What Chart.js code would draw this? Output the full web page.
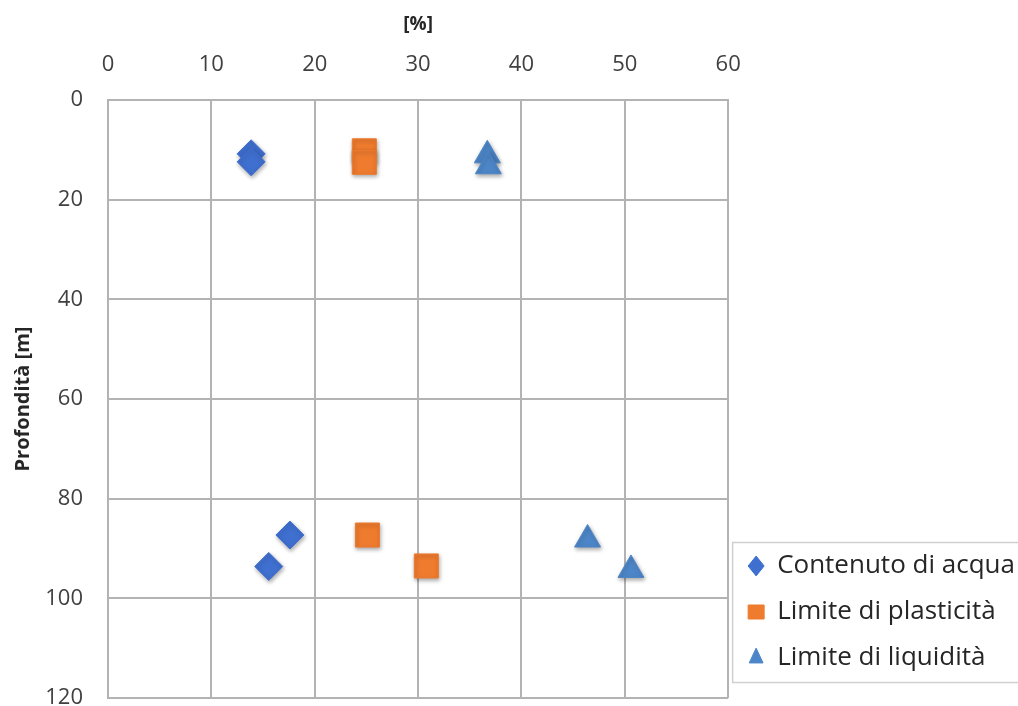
<!DOCTYPE html>
<html>
<head>
<meta charset="utf-8">
<script src="https://cdn.jsdelivr.net/npm/chart.js@4/dist/chart.umd.min.js"></script>
<style>
  html, body { margin: 0; padding: 0; background: #fff; overflow: hidden; }
  #wrap { position: relative; width: 1018px; height: 706px; }
</style>
</head>
<body>
<div id="wrap"><canvas id="c"></canvas></div>
<script>
// Series labels
const seriesNames = ['Contenuto di acqua', 'Limite di plasticità', 'Limite di liquidità'];

// Contenuto di acqua: [%] vs profondità [m]
const acquaX = [13.85, 13.85, 17.6, 15.55];
const acquaY = [10.8, 12.4, 87.3, 93.6];

// Limite di plasticità
const plastX = [24.8, 24.8, 25.1, 30.8];
const plastY = [10.2, 12.5, 87.3, 93.5];

// Limite di liquidità
const liquidX = [36.7, 36.8, 46.4, 50.6];
const liquidY = [11.1, 13.3, 88.2, 94.3];

// Axis ticks
const xTicks = [0, 10, 20, 30, 40, 50, 60];
const yTicks = [0, 20, 40, 60, 80, 100, 120];

const toPoints = (xs, ys) => xs.map((x, i) => ({ x: x, y: ys[i] }));

const FONT = "'Open Sans', 'Noto Sans', sans-serif";
const GRID = '#b3b3b3';

// Plot frame and legend placement
const PLOT = { right: 728, bottom: 698 };
const LEGEND_BOTTOM = 691;

// Soft drop shadow under the markers
const markerShadow = {
  id: 'markerShadow',
  beforeDatasetsDraw(chart) {
    const ctx = chart.ctx;
    ctx.save();
    ctx.shadowColor = 'rgba(0,0,0,0.35)';
    ctx.shadowBlur = 4;
    ctx.shadowOffsetX = 1;
    ctx.shadowOffsetY = 2;
  },
  afterDatasetsDraw(chart) {
    chart.ctx.restore();
  }
};

// Legend block sits low on the right and runs out to the canvas edge
const legendPlace = {
  id: 'legendPlace',
  afterLayout(chart) {
    const lg = chart.legend;
    if (!lg) return;
    const shift = LEGEND_BOTTOM - lg.bottom;
    lg.top += shift;
    lg.bottom += shift;
    lg.right = chart.width;
    lg.width = lg.right - lg.left;
  }
};

// Thin frame around the legend entries
const legendFrame = {
  id: 'legendFrame',
  afterDraw(chart) {
    const lg = chart.legend;
    if (!lg || !lg.legendHitBoxes || !lg.legendHitBoxes.length) return;
    const boxes = lg.legendHitBoxes;
    const top = Math.min(...boxes.map(b => b.top)) - 11;
    const bottom = Math.max(...boxes.map(b => b.top + b.height)) + 11;
    const left = lg.left + 4;
    const right = chart.width + 10;
    const ctx = chart.ctx;
    ctx.save();
    ctx.strokeStyle = '#d0d0d0';
    ctx.lineWidth = 1.5;
    ctx.strokeRect(left + 0.5, top + 0.5, right - left, bottom - top);
    ctx.restore();
  }
};

const chart = new Chart(document.getElementById('c'), {
  type: 'scatter',
  data: {
    datasets: [
      {
        label: seriesNames[0],
        data: toPoints(acquaX, acquaY),
        pointStyle: 'rectRot',
        pointRadius: 14,
        pointHoverRadius: 14,
        backgroundColor: '#3f6fcf',
        borderColor: '#3f6fcf',
        borderWidth: 1
      },
      {
        label: seriesNames[1],
        data: toPoints(plastX, plastY),
        pointStyle: 'rect',
        pointRadius: 17,
        pointHoverRadius: 17,
        backgroundColor: '#ef7b2e',
        borderColor: '#ef7b2e',
        borderWidth: 1
      },
      {
        label: seriesNames[2],
        data: toPoints(liquidX, liquidY),
        pointStyle: 'triangle',
        pointRadius: 15,
        pointHoverRadius: 15,
        backgroundColor: '#4d86c8',
        borderColor: '#4d86c8',
        borderWidth: 1
      }
    ]
  },
  options: {
    responsive: true,
    maintainAspectRatio: false,
    animation: false,
    events: [],
    layout: { autoPadding: false, padding: { left: 0, top: 0, right: 0, bottom: 8 } },
    plugins: {
      tooltip: { enabled: false },
      legend: {
        position: 'right',
        align: 'end',
        labels: {
          usePointStyle: true,
          boxHeight: 14,
          pointStyleWidth: 16,
          padding: 20,
          color: '#262626',
          font: { family: FONT, size: 26 }
        }
      }
    },
    scales: {
      x: {
        type: 'linear',
        position: 'top',
        min: 0,
        max: 60,
        afterBuildTicks: s => { s.ticks = xTicks.map(v => ({ value: v })); },
        afterFit: s => { s.height = 100; s.paddingLeft = 0; s.paddingRight = 0; },
        grid: { color: GRID, lineWidth: 2, drawTicks: false },
        border: { color: GRID, width: 2 },
        ticks: { color: '#404040', padding: 22, font: { family: FONT, size: 22 } },
        title: {
          display: true,
          text: '[%]',
          color: '#262626',
          padding: { top: 13, bottom: 4 },
          font: { family: FONT, size: 19, weight: 'bold' }
        }
      },
      y: {
        type: 'linear',
        reverse: true,
        min: 0,
        max: 120,
        afterBuildTicks: s => { s.ticks = yTicks.map(v => ({ value: v })); },
        afterFit: s => { s.width = 108; s.paddingTop = 0; s.paddingBottom = 0; },
        grid: { color: GRID, lineWidth: 2, drawTicks: false },
        border: { color: GRID, width: 2 },
        ticks: { color: '#404040', padding: 25, font: { family: FONT, size: 22 } },
        title: {
          display: true,
          text: 'Profondità [m]',
          color: '#262626',
          padding: { top: 11, bottom: 0 },
          font: { family: FONT, size: 20, weight: 'bold' }
        }
      }
    }
  },
  plugins: [markerShadow, legendPlace, legendFrame]
});

// Nudge the outer padding until the plot frame sits where it should
for (let i = 0; i < 4; i++) {
  const a = chart.chartArea;
  const p = chart.options.layout.padding;
  const dr = a.right - PLOT.right;
  const db = a.bottom - PLOT.bottom;
  if (Math.abs(dr) < 0.5 && Math.abs(db) < 0.5) break;
  p.right = Math.max(0, p.right + dr);
  p.bottom = Math.max(0, p.bottom + db);
  chart.update();
}
</script>
</body>
</html>
